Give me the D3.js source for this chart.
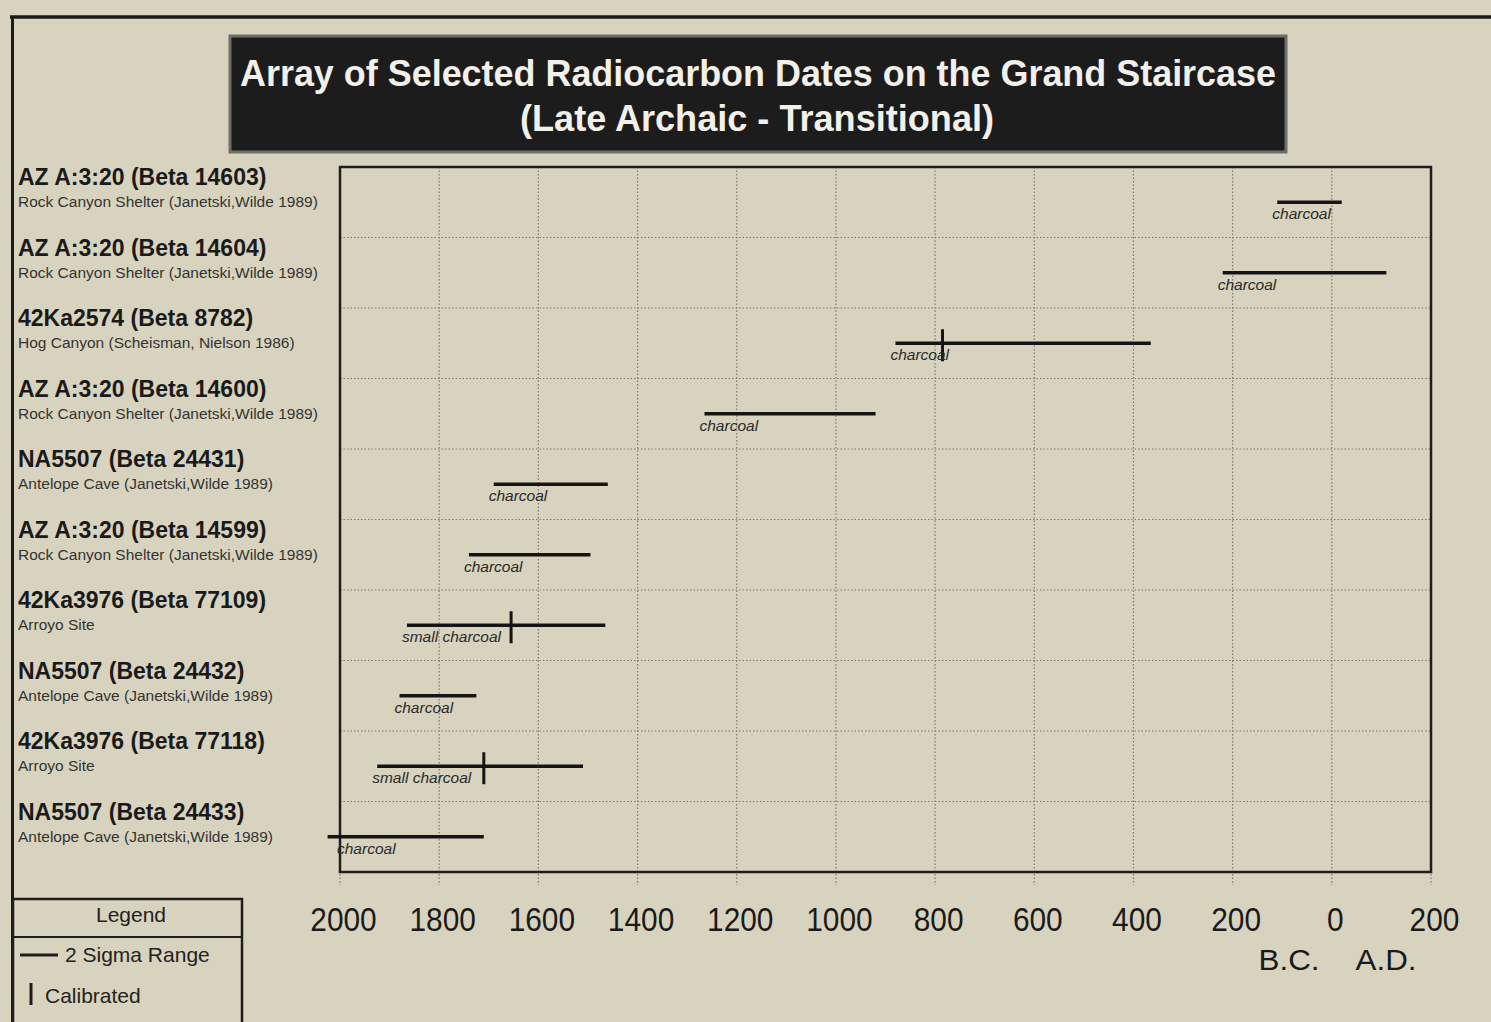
<!DOCTYPE html>
<html>
<head>
<meta charset="utf-8">
<script src="https://cdn.jsdelivr.net/npm/d3@7"></script>
<style>
  html, body { margin: 0; padding: 0; background: #d8d3be; }
  svg { display: block; }
</style>
</head>
<body>
<svg id="chart" width="1491" height="1022"></svg>
<script>
// ---- DATA ----
const sampleIds = [
  "AZ A:3:20 (Beta 14603)",
  "AZ A:3:20 (Beta 14604)",
  "42Ka2574 (Beta 8782)",
  "AZ A:3:20 (Beta 14600)",
  "NA5507 (Beta 24431)",
  "AZ A:3:20 (Beta 14599)",
  "42Ka3976 (Beta 77109)",
  "NA5507 (Beta 24432)",
  "42Ka3976 (Beta 77118)",
  "NA5507 (Beta 24433)"
];
const sites = [
  "Rock Canyon Shelter (Janetski,Wilde 1989)",
  "Rock Canyon Shelter (Janetski,Wilde 1989)",
  "Hog Canyon (Scheisman, Nielson 1986)",
  "Rock Canyon Shelter (Janetski,Wilde 1989)",
  "Antelope Cave (Janetski,Wilde 1989)",
  "Rock Canyon Shelter (Janetski,Wilde 1989)",
  "Arroyo Site",
  "Antelope Cave (Janetski,Wilde 1989)",
  "Arroyo Site",
  "Antelope Cave (Janetski,Wilde 1989)"
];
const materials = [
  "charcoal", "charcoal", "charcoal", "charcoal", "charcoal",
  "charcoal", "small charcoal", "charcoal", "small charcoal", "charcoal"
];
// years: negative = B.C., positive = A.D.
const rangeStart = [-110, -220, -880, -1265, -1690, -1740, -1865, -1880, -1925, -2025];
const rangeEnd   = [20, 110, -365, -920, -1460, -1495, -1465, -1725, -1510, -1710];
const calibrated = [null, null, -785, null, null, null, -1655, null, -1710, null];
const tickYears  = [-2000, -1800, -1600, -1400, -1200, -1000, -800, -600, -400, -200, 0, 200];
const titleLines = ["Array of Selected Radiocarbon Dates on the Grand Staircase", "(Late Archaic - Transitional)"];
const legendTitle = "Legend";
const legendItems = ["2 Sigma Range", "Calibrated"];
const eraLabels = ["B.C.", "A.D."];

// ---- LAYOUT ----
const svg = d3.select("#chart");
const plot = { left: 340, right: 1431, top: 167, bottom: 872 };
const font = "'Liberation Sans', Arial, Helvetica, sans-serif";

const x = d3.scaleLinear().domain([-2000, 200]).range([plot.left, plot.right]);
const y = d3.scaleBand().domain(d3.range(sampleIds.length)).range([plot.top, plot.bottom]).padding(0);

// background
svg.append("rect").attr("width", 1491).attr("height", 1022).attr("fill", "#d8d3be");

// outer page frame
svg.append("line").attr("x1", 10).attr("x2", 1491).attr("y1", 17).attr("y2", 17)
  .attr("stroke", "#1a1a1a").attr("stroke-width", 3.5);
svg.append("line").attr("x1", 12.5).attr("x2", 12.5).attr("y1", 16).attr("y2", 1022)
  .attr("stroke", "#1a1a1a").attr("stroke-width", 3);

// title box
svg.append("rect").attr("x", 230).attr("y", 36).attr("width", 1056).attr("height", 116)
  .attr("fill", "#1c1c1c").attr("stroke", "#6f6e68").attr("stroke-width", 3);
const titleG = svg.append("g").attr("font-family", font).attr("font-weight", "bold")
  .attr("fill", "#f2f0ea").attr("text-anchor", "middle");
titleG.append("text").attr("x", 758).attr("y", 86).attr("font-size", 36)
  .attr("textLength", 1036).attr("lengthAdjust", "spacingAndGlyphs").text(titleLines[0]);
titleG.append("text").attr("x", 757).attr("y", 131).attr("font-size", 36)
  .attr("textLength", 474).attr("lengthAdjust", "spacingAndGlyphs").text(titleLines[1]);

// vertical gridlines (dotted, extending below the plot)
svg.append("g").selectAll("line").data(tickYears).join("line")
  .attr("x1", d => x(d)).attr("x2", d => x(d))
  .attr("y1", plot.top).attr("y2", plot.bottom + 13)
  .attr("stroke", "#7d7b72").attr("stroke-width", 1.2).attr("stroke-dasharray", "1.5,2");

// horizontal gridlines between rows
svg.append("g").selectAll("line").data(d3.range(1, sampleIds.length)).join("line")
  .attr("x1", plot.left).attr("x2", plot.right)
  .attr("y1", d => y(d)).attr("y2", d => y(d))
  .attr("stroke", "#7d7b72").attr("stroke-width", 1.2).attr("stroke-dasharray", "1.5,2");

// plot frame
svg.append("rect").attr("x", plot.left).attr("y", plot.top)
  .attr("width", plot.right - plot.left).attr("height", plot.bottom - plot.top)
  .attr("fill", "none").attr("stroke", "#1e1e1e").attr("stroke-width", 2.5);

// x axis labels
const axis = d3.axisBottom(x).tickValues(tickYears).tickSize(0).tickPadding(0)
  .tickFormat(d => String(Math.abs(d)));
const axG = svg.append("g").attr("transform", `translate(3, ${plot.bottom + 36})`).call(axis);
axG.select(".domain").remove();
axG.selectAll("text").attr("font-family", font).attr("font-size", 33)
  .attr("fill", "#1a1a1a").attr("dy", "0.71em").attr("y", 0)
  .attr("textLength", d => String(Math.abs(d)).length * 16.6).attr("lengthAdjust", "spacingAndGlyphs");

// era labels
svg.append("g").attr("font-family", font).attr("font-size", 29).attr("fill", "#1a1a1a")
  .attr("text-anchor", "middle")
  .selectAll("text").data(eraLabels).join("text")
  .attr("x", (d, i) => i === 0 ? 1289 : 1386).attr("y", 970)
  .attr("textLength", 61).attr("lengthAdjust", "spacingAndGlyphs")
  .text(d => d);

// row labels
const labelG = svg.append("g").attr("font-family", font);
labelG.selectAll("text.id").data(sampleIds).join("text").attr("class", "id")
  .attr("x", 18).attr("y", (d, i) => y(i) + y.bandwidth() / 2 - 17)
  .attr("font-size", 23).attr("font-weight", "bold").attr("fill", "#1a1a1a").text(d => d);
labelG.selectAll("text.site").data(sites).join("text").attr("class", "site")
  .attr("x", 18).attr("y", (d, i) => y(i) + y.bandwidth() / 2 + 5)
  .attr("font-size", 15.5).attr("fill", "#333").text(d => d);

// 2-sigma ranges
const rowY = i => y(i) + y.bandwidth() / 2;
const markG = svg.append("g");
markG.selectAll("line.range").data(sampleIds).join("line").attr("class", "range")
  .attr("x1", (d, i) => x(rangeStart[i])).attr("x2", (d, i) => x(rangeEnd[i]))
  .attr("y1", (d, i) => rowY(i)).attr("y2", (d, i) => rowY(i))
  .attr("stroke", "#141414").attr("stroke-width", 3.5);

// calibrated markers
markG.selectAll("line.cal").data(d3.range(sampleIds.length).filter(i => calibrated[i] !== null)).join("line")
  .attr("class", "cal")
  .attr("x1", i => x(calibrated[i])).attr("x2", i => x(calibrated[i]))
  .attr("y1", i => rowY(i) - 14).attr("y2", i => rowY(i) + 18)
  .attr("stroke", "#141414").attr("stroke-width", 3);

// material notes
markG.selectAll("text.mat").data(materials).join("text").attr("class", "mat")
  .attr("x", (d, i) => Math.max(x(rangeStart[i]) - 5, plot.left - 3))
  .attr("y", (d, i) => rowY(i) + 17)
  .attr("font-family", font).attr("font-style", "italic").attr("font-size", 15.5)
  .attr("fill", "#2a2a2a").text(d => d);

// legend
const lg = svg.append("g").attr("font-family", font).attr("fill", "#222");
lg.append("rect").attr("x", 13).attr("y", 899).attr("width", 229).attr("height", 140)
  .attr("fill", "none").attr("stroke", "#1e1e1e").attr("stroke-width", 2.5);
lg.append("line").attr("x1", 13).attr("x2", 242).attr("y1", 937).attr("y2", 937)
  .attr("stroke", "#1e1e1e").attr("stroke-width", 2);
lg.append("text").attr("x", 131).attr("y", 922).attr("text-anchor", "middle")
  .attr("font-size", 21).text(legendTitle);
lg.append("line").attr("x1", 20).attr("x2", 58).attr("y1", 955).attr("y2", 955)
  .attr("stroke", "#1e1e1e").attr("stroke-width", 3);
lg.append("text").attr("x", 65).attr("y", 962).attr("font-size", 21).text(legendItems[0]);
lg.append("line").attr("x1", 31).attr("x2", 31).attr("y1", 983).attr("y2", 1005)
  .attr("stroke", "#1e1e1e").attr("stroke-width", 3);
lg.append("text").attr("x", 45).attr("y", 1003).attr("font-size", 21).text(legendItems[1]);
</script>
</body>
</html>
